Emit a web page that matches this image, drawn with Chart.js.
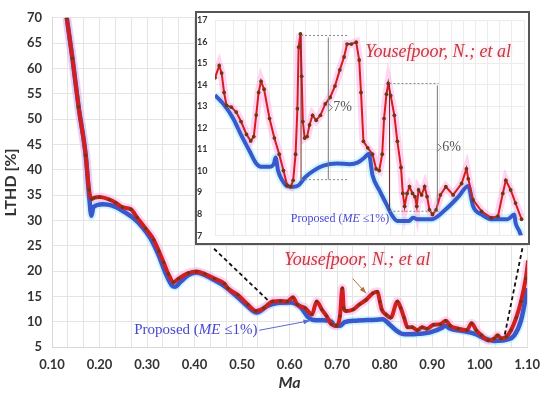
<!DOCTYPE html>
<html>
<head>
<meta charset="utf-8">
<script src="https://cdn.jsdelivr.net/npm/chart.js@4.4.0/dist/chart.umd.min.js"></script>
<style>
html, body { margin: 0; padding: 0; background: #fff; }
#wrap { position: relative; width: 550px; height: 394px; }
#main { position: absolute; left: 0; top: 0; }
#inset { position: absolute; left: 195px; top: 11px; width: 335px; height: 234px;
         border: 2px solid #555; box-sizing: border-box; background: #fff; }
#inset canvas { display: block; }
</style>
</head>
<body>
<div id="wrap">
  <canvas id="main" width="550" height="394"></canvas>
  <div id="inset"><canvas id="insetCanvas" width="331" height="230"></canvas></div>
</div>
<script>
// Main chart - Ma vs LTHD [%]
const redMa = [0.131, 0.143, 0.156, 0.171, 0.178, 0.183, 0.190, 0.200, 0.221, 0.234, 0.248, 0.266, 0.279,
  0.297, 0.314, 0.325, 0.335, 0.345, 0.356, 0.366, 0.387, 0.404, 0.422, 0.442, 0.463, 0.470, 0.491, 0.512,
  0.529, 0.546, 0.564, 0.581, 0.595, 0.607, 0.616, 0.633, 0.647, 0.657, 0.668, 0.678, 0.688, 0.699, 0.706,
  0.711, 0.714, 0.719, 0.734, 0.747, 0.761, 0.775, 0.785, 0.790, 0.794, 0.803, 0.813, 0.827, 0.834, 0.841,
  0.848, 0.858, 0.869, 0.879, 0.889, 0.903, 0.917, 0.929, 0.938, 0.955, 0.973, 0.983, 0.993, 1.004, 1.018,
  1.031, 1.038, 1.045, 1.056, 1.066, 1.077, 1.087, 1.097, 1.102];
const redLthd = [70, 62, 52.4, 42.8, 36, 34.2, 34.5, 34.6, 34.1, 33.5, 32.6, 32.2, 30.6,
  28.4, 26.2, 23.9, 21.7, 19.4, 17.8, 18.5, 19.6, 19.9, 19.4, 18.5, 17.5, 16.6, 15.3, 13.4,
  12.1, 12.7, 14.0, 14.1, 14.0, 14.8, 13.4, 12.7, 11.4, 14.0, 12.4, 11.1, 9.5, 9.2, 11.1,
  16.6, 12.7, 12.1, 12.4, 13.4, 14.3, 15.6, 15.9, 14.0, 12.4, 11.4, 10.8, 14.0, 12.7, 10.8,
  8.9, 8.9, 8.3, 8.9, 8.6, 9.4, 9.5, 10.2, 9.2, 8.6, 8.3, 9.7, 8.3, 7.3, 6.3,
  6.7, 7.3, 6.7, 7.0, 8.3, 10.8, 14.0, 18.5, 22.0];

const blueMa = [0.131, 0.143, 0.156, 0.171, 0.178, 0.183, 0.187, 0.207, 0.227, 0.248, 0.269, 0.290, 0.307,
  0.325, 0.338, 0.352, 0.359, 0.370, 0.387, 0.404, 0.422, 0.442, 0.463, 0.491, 0.512, 0.531, 0.553, 0.574,
  0.602, 0.623, 0.640, 0.654, 0.671, 0.688, 0.695, 0.706, 0.716, 0.740, 0.782, 0.796, 0.810, 0.824, 0.837,
  0.851, 0.872, 0.896, 0.921, 0.927, 0.938, 0.962, 0.990, 1.011, 1.031, 1.059, 1.073, 1.087, 1.101];
const blueLthd = [70, 62, 52.4, 42.8, 35, 30.9, 32.6, 33.2, 32.9, 31.9, 30.6, 28.7, 26.5,
  23.0, 19.8, 17.2, 16.9, 17.8, 19.2, 19.7, 19.2, 18.2, 17.0, 14.8, 13.0, 11.8, 13.1, 13.7,
  13.8, 12.9, 10.8, 10.3, 10.3, 10.0, 9.2, 9.2, 9.9, 10.2, 10.4, 10.5, 9.5, 8.3, 7.6,
  7.5, 7.6, 7.9, 8.8, 9.2, 8.6, 8.2, 7.6, 6.7, 6.2, 6.5, 7.3, 10.2, 16.6];

// Inset (zoom on 0.57 - 1.08)
const insetRedMa = [0.570, 0.577, 0.581, 0.585, 0.589, 0.597, 0.605, 0.613, 0.622, 0.629, 0.634, 0.638, 0.642,
  0.646, 0.651, 0.660, 0.668, 0.676, 0.683, 0.689, 0.695, 0.699, 0.703, 0.706, 0.708, 0.711, 0.713, 0.715,
  0.718, 0.722, 0.726, 0.731, 0.737, 0.744, 0.752, 0.760, 0.768, 0.776, 0.783, 0.788, 0.795, 0.803, 0.808,
  0.811, 0.815, 0.822, 0.830, 0.836, 0.841, 0.846, 0.849, 0.853, 0.856, 0.860, 0.866, 0.871, 0.877, 0.880,
  0.883, 0.887, 0.891, 0.896, 0.900, 0.903, 0.906, 0.911, 0.916, 0.920, 0.924, 0.929, 0.935, 0.942, 0.951,
  0.963, 0.977, 0.985, 0.988, 0.996, 1.010, 1.026, 1.037, 1.045, 1.050, 1.058, 1.066, 1.076];
const insetRed = [14.33, 14.9, 14.55, 13.65, 13.05, 12.97, 12.74, 12.3, 11.7, 11.4, 11.6, 12.6, 13.65,
  14.17, 13.8, 12.44, 11.53, 10.78, 10.02, 9.34, 9.27, 9.57, 10.78, 12.9, 15.76, 16.37, 14.4, 12.3,
  11.53, 11.6, 12.14, 12.59, 12.36, 12.59, 13.12, 13.42, 13.95, 14.7, 15.3, 15.9, 15.9, 15.99, 15.16,
  13.65, 11.38, 11.08, 10.78, 10.1, 10.02, 10.78, 12.44, 13.57, 14.07, 13.5, 12.59, 11.38, 10.17, 8.96,
  8.36, 8.96, 9.27, 8.96, 8.81, 8.36, 9.12, 8.89, 9.27, 8.81, 8.2, 7.98, 8.2, 8.89, 9.27,
  8.89, 9.42, 10.1, 9.64, 8.66, 8.13, 7.83, 7.9, 8.96, 9.57, 9.12, 8.51, 7.76];

const insetBlueMa = [0.570, 0.586, 0.600, 0.613, 0.627, 0.638, 0.646, 0.660, 0.667, 0.670, 0.674, 0.681, 0.689,
  0.700, 0.708, 0.719, 0.733, 0.749, 0.771, 0.792, 0.806, 0.817, 0.824, 0.830, 0.841, 0.852, 0.863, 0.871,
  0.890, 0.897, 0.904, 0.928, 0.950, 0.972, 0.988, 0.996, 1.010, 1.026, 1.053, 1.064, 1.066, 1.072, 1.075];
const insetBlue = [13.53, 13.04, 12.44, 11.68, 10.93, 10.35, 10.2, 10.2, 10.32, 10.63, 10.02, 9.57, 9.3,
  9.27, 9.34, 9.72, 10.02, 10.25, 10.35, 10.32, 10.4, 10.63, 10.8, 9.8, 9.12, 8.51, 7.9, 7.68,
  7.68, 7.83, 7.76, 7.76, 8.2, 8.81, 9.3, 8.36, 7.98, 7.76, 7.76, 7.98, 7.6, 7.23, 7.0];

const xTicks = [0.10, 0.20, 0.30, 0.40, 0.50, 0.60, 0.70, 0.80, 0.90, 1.00, 1.10];
const insetYTicks = [7, 8, 9, 10, 11, 12, 13, 14, 15, 16, 17];

const RED = '#d41e1e';
const DOT = '#6b3a12';
const BLUE = '#3a58cc';
const RED_GLOW = 'rgba(255,150,225,0.4)';
const BLUE_GLOW = 'rgba(140,235,255,0.45)';
const TICK_FONT = { family: 'Lato', size: 13, weight: 'bold' };

function zip(xs, ys) {
    return xs.map((x, i) => ({ x: x, y: ys[i] }));
}

function arrow(ctx, x1, y1, x2, y2, color) {
    ctx.save();
    ctx.strokeStyle = color;
    ctx.fillStyle = color;
    ctx.lineWidth = 1;
    ctx.beginPath();
    ctx.moveTo(x1, y1);
    ctx.lineTo(x2, y2);
    ctx.stroke();
    const a = Math.atan2(y2 - y1, x2 - x1);
    ctx.beginPath();
    ctx.moveTo(x2, y2);
    ctx.lineTo(x2 - 7 * Math.cos(a - 0.35), y2 - 7 * Math.sin(a - 0.35));
    ctx.lineTo(x2 - 7 * Math.cos(a + 0.35), y2 - 7 * Math.sin(a + 0.35));
    ctx.closePath();
    ctx.fill();
    ctx.restore();
}

function textYousefpoor(ctx, x, y, size) {
    ctx.save();
    ctx.font = 'italic ' + size + 'px "Liberation Serif"';
    ctx.textAlign = 'left';
    ctx.textBaseline = 'middle';
    ctx.shadowColor = 'rgba(255,140,200,0.6)';
    ctx.shadowBlur = 4;
    ctx.fillStyle = '#c23c3c';
    ctx.fillText('Yousefpoor, N.; et al', x, y);
    ctx.restore();
}

function textProposed(ctx, x, y, size) {
    ctx.save();
    ctx.textAlign = 'left';
    ctx.textBaseline = 'middle';
    ctx.fillStyle = '#4848d0';
    [['Proposed (', ''], ['ME', 'italic '], [' \u22641%)', '']].forEach(p => {
        ctx.font = p[1] + size + 'px "Liberation Serif"';
        ctx.fillText(p[0], x, y);
        x += ctx.measureText(p[0]).width;
    });
    ctx.restore();
}

// anotaciones del grafico principal
const mainNotes = {
    id: 'mainNotes',
    afterDatasetsDraw(chart) {
        const ctx = chart.ctx;
        const px = v => chart.scales.x.getPixelForValue(v);
        const py = v => chart.scales.y.getPixelForValue(v);

        ctx.save();
        ctx.strokeStyle = '#111';
        ctx.lineWidth = 1.8;
        ctx.setLineDash([4, 3]);
        ctx.beginPath();
        ctx.moveTo(px(0.441), py(24.4));
        ctx.lineTo(px(0.557), py(14.0));
        ctx.moveTo(px(1.090), py(24.5));
        ctx.lineTo(px(1.052), py(7.0));
        ctx.stroke();
        ctx.restore();

        textYousefpoor(ctx, px(0.589), py(22.1), 18);
        arrow(ctx, px(0.733), py(18.5), px(0.761), py(15.6), '#b0703a');

        textProposed(ctx, px(0.273), py(8.3), 15);
        arrow(ctx, px(0.536), py(8.3), px(0.643), py(10.2), '#5a6ad0');
    }
};

// anotaciones del recuadro
function bracket(ctx, px, py, xLeft, xBar, xEnd, yTop, yBot, label) {
    ctx.save();
    ctx.strokeStyle = '#7a2a2a';
    ctx.lineWidth = 1;
    ctx.beginPath();
    ctx.moveTo(px(xLeft), py(yTop));
    ctx.lineTo(px(xLeft), py(yBot));
    ctx.stroke();

    ctx.strokeStyle = '#888';
    ctx.setLineDash([2, 2]);
    ctx.beginPath();
    ctx.moveTo(px(xLeft), py(yTop));
    ctx.lineTo(px(xEnd), py(yTop));
    ctx.moveTo(px(xLeft), py(yBot));
    ctx.lineTo(px(xEnd), py(yBot));
    ctx.stroke();

    ctx.setLineDash([]);
    ctx.strokeStyle = '#777';
    const xb = px(xBar);
    const ym = (py(yTop) + py(yBot)) / 2;
    ctx.beginPath();
    ctx.moveTo(xb, py(yTop) + 2);
    ctx.lineTo(xb, py(yBot));
    ctx.moveTo(xb, ym - 4);
    ctx.lineTo(xb + 4, ym);
    ctx.lineTo(xb, ym + 4);
    ctx.stroke();

    ctx.fillStyle = '#555';
    ctx.font = '14px "Liberation Serif"';
    ctx.textAlign = 'left';
    ctx.textBaseline = 'middle';
    ctx.fillText(label, xb + 5, ym);
    ctx.restore();
}

const insetNotes = {
    id: 'insetNotes',
    afterDatasetsDraw(chart) {
        const ctx = chart.ctx;
        const px = v => chart.scales.x.getPixelForValue(v);
        const py = v => chart.scales.y.getPixelForValue(v);
        bracket(ctx, px, py, 0.712, 0.757, 0.790, 16.3, 9.6, '7%');
        bracket(ctx, px, py, 0.858, 0.937, 0.939, 14.07, 8.13, '6%');
        textYousefpoor(ctx, px(0.818), py(15.52), 18);
        textProposed(ctx, px(0.695), py(7.76), 12);
    }
};

// order: menor valor se dibuja encima
new Chart(document.getElementById('main'), {
    type: 'line',
    data: {
        datasets: [
            { data: zip(redMa, redLthd), order: 0, borderColor: RED, borderWidth: 4, pointRadius: 1.7, pointBorderWidth: 0,
              pointBackgroundColor: DOT, cubicInterpolationMode: 'monotone' },
            { data: zip(blueMa, blueLthd), order: 1, borderColor: BLUE, borderWidth: 4.5, pointRadius: 0, cubicInterpolationMode: 'monotone' },
            { data: zip(redMa, redLthd), order: 2, borderColor: RED_GLOW, borderWidth: 9, pointRadius: 0, cubicInterpolationMode: 'monotone' },
            { data: zip(blueMa, blueLthd), order: 3, borderColor: BLUE_GLOW, borderWidth: 8, pointRadius: 0, cubicInterpolationMode: 'monotone' }
        ]
    },
    options: {
        responsive: false,
        animation: false,
        layout: { padding: { top: 9, right: 17, left: 0, bottom: 0 } },
        plugins: { legend: { display: false }, tooltip: { enabled: false } },
        scales: {
            x: {
                type: 'linear', min: 0.1, max: 1.1,
                afterBuildTicks: s => {
                    const t = [];
                    for (let i = 0; i <= 30; i++) t.push({ value: 0.1 + i / 30 });
                    s.ticks = t;
                },
                afterFit: s => { s.height = 47; },
                ticks: {
                    autoSkip: false, maxRotation: 0, padding: 10, color: '#333', font: TICK_FONT,
                    callback: v => {
                        const hit = xTicks.find(t => Math.abs(t - v) < 1e-6);
                        return hit !== undefined ? hit.toFixed(2) : '';
                    }
                },
                grid: { color: '#e4e4e4', drawTicks: false },
                border: { color: '#d8d8d8' },
                title: { display: true, text: 'Ma', color: '#333', padding: { top: 0, bottom: 2 },
                         font: { family: 'Lato', size: 16, weight: 'bold', style: 'italic' } }
            },
            y: {
                min: 5, max: 70,
                afterFit: s => { s.width = 52; },
                ticks: { stepSize: 5, padding: 10, color: '#333', font: TICK_FONT },
                grid: { color: '#e4e4e4', drawTicks: false },
                border: { color: '#d8d8d8' },
                title: { display: true, text: 'LTHD [%]', color: '#333', padding: { top: 1, bottom: 0 },
                         font: { family: 'Lato', size: 16, weight: 'bold' } }
            }
        }
    },
    plugins: [mainNotes]
});

new Chart(document.getElementById('insetCanvas'), {
    type: 'line',
    data: {
        datasets: [
            { data: zip(insetRedMa, insetRed), order: 0, borderColor: RED, borderWidth: 2, pointRadius: 1.9, pointBorderWidth: 0,
              pointBackgroundColor: DOT },
            { data: zip(insetBlueMa, insetBlue), order: 1, borderColor: BLUE, borderWidth: 4, pointRadius: 0, cubicInterpolationMode: 'monotone' },
            { data: zip(insetRedMa, insetRed), order: 2, borderColor: RED_GLOW, borderWidth: 8, pointRadius: 0 },
            { data: zip(insetBlueMa, insetBlue), order: 3, borderColor: BLUE_GLOW, borderWidth: 8, pointRadius: 0, cubicInterpolationMode: 'monotone' }
        ]
    },
    options: {
        responsive: false,
        animation: false,
        layout: { padding: { top: 6, right: 0, left: 0, bottom: 3 } },
        plugins: { legend: { display: false }, tooltip: { enabled: false } },
        scales: {
            x: {
                type: 'linear', min: 0.57, max: 1.08,
                ticks: { display: false, stepSize: 0.02 },
                grid: { color: '#ececec', drawTicks: false },
                border: { display: false }
            },
            y: {
                min: 7, max: 17,
                afterFit: s => { s.width = 18; },
                ticks: {
                    stepSize: 0.5, padding: 2, crossAlign: 'far', color: '#333',
                    font: { family: 'Lato', size: 9, weight: 'bold' },
                    callback: v => insetYTicks.includes(v) ? String(v) : ''
                },
                grid: { color: '#ececec', drawTicks: false },
                border: { display: false }
            }
        }
    },
    plugins: [insetNotes]
});
</script>
</body>
</html>
